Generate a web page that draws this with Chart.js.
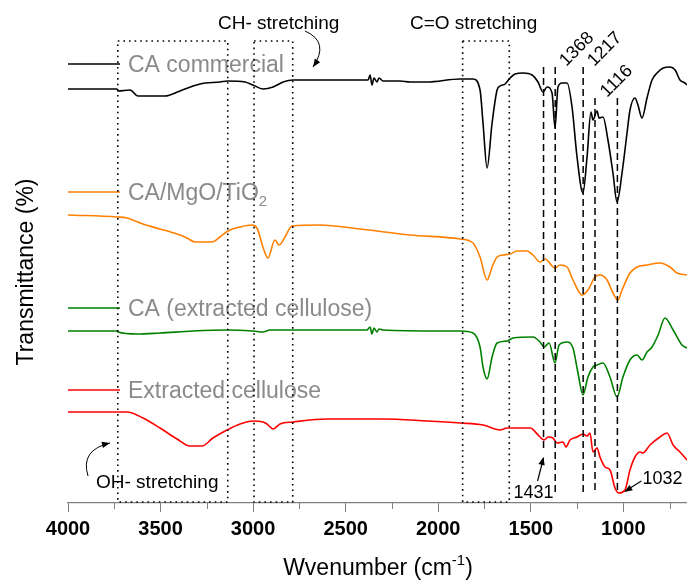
<!DOCTYPE html>
<html>
<head>
<meta charset="utf-8">
<script src="https://cdn.jsdelivr.net/npm/chart.js@4.4.1/dist/chart.umd.min.js"></script>
<style>
    body { margin: 0; background: #fff; }
    #wrap { width: 687px; height: 584px; }
</style>
</head>
<body>
<div id="wrap"><canvas id="ftirChart"></canvas></div>
<script>
const FONT = '"Liberation Sans", Arial, sans-serif';

// wavenumber (cm-1) and offset transmittance
const caCommercialWn = [4000, 3735, 3730, 3665, 3622, 3584, 3476, 3395, 3287, 3179, 3136, 3044, 3001, 2947, 2892, 2838, 2784, 2639, 2422, 2379, 2368, 2358, 2347, 2331, 2320, 2298, 2206, 2152, 2061, 1882, 1812, 1774, 1758, 1736, 1709, 1682, 1666, 1639, 1612, 1585, 1542, 1493, 1461, 1434, 1412, 1385, 1369, 1353, 1331, 1304, 1277, 1250, 1218, 1196, 1175, 1164, 1142, 1131, 1110, 1083, 1056, 1034, 1007, 980, 964, 937, 921, 899, 872, 845, 818, 785, 748, 720, 694, 667, 656];
const caCommercialT = [414, 414, 412, 413, 407, 407, 407, 412, 419, 421, 422, 421, 418, 414, 416, 421, 423, 423, 423, 423, 428, 418, 425, 421, 425, 422, 422, 421, 421, 424, 424, 413, 380, 335, 380, 413, 417, 419, 425, 429, 430, 428, 421, 411, 416, 410, 375, 416, 420, 420, 396, 346, 310, 346, 391, 383, 392, 385, 386, 363, 330, 301, 330, 370, 393, 405, 398, 385, 405, 423, 430, 435, 436, 433, 423, 420, 418];

const caMgoTioWn = [4000, 3735, 3681, 3595, 3503, 3411, 3357, 3314, 3222, 3179, 3136, 3071, 3006, 2979, 2947, 2920, 2882, 2860, 2828, 2790, 2639, 2422, 2152, 1882, 1812, 1774, 1736, 1709, 1682, 1650, 1612, 1574, 1520, 1488, 1450, 1423, 1369, 1342, 1304, 1272, 1223, 1191, 1153, 1126, 1088, 1056, 1029, 1007, 964, 926, 872, 802, 748, 710, 656];
const caMgoTioT = [288, 286, 285, 279, 274, 269, 265, 261, 261, 266, 272, 276, 278, 275, 256, 245, 263, 258, 266, 277, 278, 274, 268, 264, 260, 246, 223, 236, 246, 248, 249, 252, 252, 248, 241, 244, 235, 238, 236, 223, 208, 213, 226, 228, 223, 210, 203, 213, 230, 236, 238, 240, 236, 230, 228];

const caExtractedWn = [4000, 3735, 3730, 3627, 3503, 3325, 3141, 3001, 2947, 2909, 2855, 2385, 2368, 2358, 2347, 2331, 2320, 2298, 1990, 1882, 1812, 1774, 1758, 1736, 1709, 1682, 1628, 1596, 1488, 1450, 1428, 1401, 1369, 1347, 1304, 1272, 1245, 1218, 1191, 1164, 1142, 1110, 1072, 1034, 1002, 964, 926, 899, 872, 845, 812, 775, 731, 683, 656];
const caExtractedT = [172, 172, 171, 169, 170, 172, 173, 172, 171, 173, 173, 173, 176, 169, 175, 171, 174, 173, 172, 172, 170, 156, 136, 124, 146, 160, 162, 165, 166, 161, 156, 160, 140, 158, 161, 155, 130, 108, 126, 136, 138, 140, 126, 106, 126, 143, 148, 143, 151, 156, 168, 185, 173, 158, 155];

const celluloseWn = [4000, 3681, 3595, 3503, 3411, 3341, 3276, 3217, 3141, 3071, 3001, 2947, 2925, 2892, 2855, 2784, 2601, 2298, 2061, 1882, 1758, 1666, 1628, 1504, 1450, 1428, 1407, 1380, 1358, 1326, 1310, 1288, 1250, 1218, 1196, 1180, 1164, 1142, 1126, 1099, 1072, 1045, 1024, 991, 964, 937, 910, 894, 856, 802, 764, 731, 694, 656];
const celluloseT = [91, 91, 85, 75, 64, 57, 57, 65, 73, 79, 82, 81, 79, 74, 79, 81, 84, 84, 82, 80, 78, 73, 75, 75, 66, 63, 66, 65, 60, 61, 56, 63, 66, 69, 67, 70, 51, 55, 46, 36, 33, 15, 10, 13, 33, 46, 51, 50, 58, 66, 70, 58, 51, 43];

const seriesNames = ["CA commercial", "CA/MgO/TiO", "CA (extracted cellulose)", "Extracted cellulose"];
const seriesColors = ["#000000", "#ff8000", "#008000", "#ff0000"];
const legendLevels = [439, 311, 195, 113];

const xTicks = [4000, 3500, 3000, 2500, 2000, 1500, 1000];
const xMinorTicks = [3750, 3250, 2750, 2250, 1750, 1250, 750];

const bandBoxes = [[3731, 3137], [2995, 2786], [1868, 1616]];
const bandTop = 462;
const peakLines = [1431, 1368, 1217, 1153, 1032];
const peakLabels = ["1431", "1368", "1217", "1116", "1032"];
const peakLineTop = [436, 436, 436, 405, 405];
const peakLineBottom = [55, 8, 8, 13, 13];

const seriesWn = [caCommercialWn, caMgoTioWn, caExtractedWn, celluloseWn];
const seriesT = [caCommercialT, caMgoTioT, caExtractedT, celluloseT];

const datasets = seriesNames.map((name, i) => ({
    label: name,
    data: seriesWn[i].map((w, j) => ({ x: w, y: seriesT[i][j] })),
    borderColor: seriesColors[i],
    borderWidth: 1.6,
    pointRadius: 0,
    cubicInterpolationMode: "monotone",
    fill: false
}));

function arrowHead(ctx, x, y, angle, size) {
    ctx.save();
    ctx.translate(x, y);
    ctx.rotate(angle);
    ctx.beginPath();
    ctx.moveTo(0, 0);
    ctx.lineTo(-size, -size * 0.4);
    ctx.lineTo(-size, size * 0.4);
    ctx.closePath();
    ctx.fill();
    ctx.restore();
}

function curvedArrow(ctx, x0, y0, cx, cy, x1, y1) {
    ctx.beginPath();
    ctx.moveTo(x0, y0);
    ctx.quadraticCurveTo(cx, cy, x1, y1);
    ctx.stroke();
    arrowHead(ctx, x1, y1, Math.atan2(y1 - cy, x1 - cx), 8);
}

const annotations = {
    id: "annotations",
    afterDatasetsDraw(chart) {
        const ctx = chart.ctx;
        const xs = chart.scales.x;
        const ys = chart.scales.y;
        const left = chart.chartArea.left;
        ctx.save();

        // legend rows
        seriesNames.forEach((name, i) => {
            const y = ys.getPixelForValue(legendLevels[i]);
            ctx.strokeStyle = seriesColors[i];
            ctx.lineWidth = 1.6;
            ctx.beginPath();
            ctx.moveTo(left, y);
            ctx.lineTo(left + 52, y);
            ctx.stroke();
            ctx.fillStyle = "#8a8a8a";
            ctx.font = "23px " + FONT;
            ctx.textBaseline = "alphabetic";
            ctx.textAlign = "left";
            ctx.fillText(name, left + 60, y + 8);
            if (i === 1) {
                const w = ctx.measureText(name).width;
                ctx.font = "15px " + FONT;
                ctx.fillText("2", left + 60 + w, y + 14);
            }
        });

        // dotted band boxes
        ctx.strokeStyle = "#000";
        ctx.lineWidth = 1.6;
        ctx.setLineDash([1.6, 4]);
        bandBoxes.forEach(b => {
            const x0 = xs.getPixelForValue(b[0]);
            const x1 = xs.getPixelForValue(b[1]);
            const y0 = ys.getPixelForValue(bandTop);
            const y1 = ys.getPixelForValue(0) - 1;
            ctx.strokeRect(x0, y0, x1 - x0, y1 - y0);
        });

        // dashed peak lines
        ctx.lineWidth = 1.5;
        ctx.setLineDash([7, 4]);
        peakLines.forEach((p, i) => {
            const x = xs.getPixelForValue(p);
            ctx.beginPath();
            ctx.moveTo(x, ys.getPixelForValue(peakLineTop[i]));
            ctx.lineTo(x, ys.getPixelForValue(peakLineBottom[i]));
            ctx.stroke();
        });
        ctx.setLineDash([]);

        ctx.fillStyle = "#000";
        ctx.font = "18px " + FONT;
        ctx.textAlign = "left";
        ctx.textBaseline = "alphabetic";
        // rotated peak labels
        [1, 2, 3].forEach(i => {
            const x = xs.getPixelForValue(peakLines[i]) + (i === 3 ? 12 : 11);
            const y = ys.getPixelForValue(peakLineTop[i]);
            ctx.save();
            ctx.translate(x, y);
            ctx.rotate(-Math.PI / 4);
            ctx.fillText(peakLabels[i], 0, 0);
            ctx.restore();
        });

        // 1431 label with arrow
        const x1431 = xs.getPixelForValue(peakLines[0]);
        ctx.fillText(peakLabels[0], x1431 - 30, 498);
        ctx.lineWidth = 1.2;
        ctx.strokeStyle = "#000";
        ctx.beginPath();
        ctx.moveTo(x1431 - 6, 481);
        ctx.lineTo(x1431, 458);
        ctx.stroke();
        arrowHead(ctx, x1431, 457, Math.atan2(-23, 6), 8);

        // 1032 label with arrow
        const x1032 = xs.getPixelForValue(peakLines[4]);
        ctx.fillText(peakLabels[4], x1032 + 25, 484);
        ctx.beginPath();
        ctx.moveTo(x1032 + 24, 481);
        ctx.lineTo(x1032 + 8, 491);
        ctx.stroke();
        arrowHead(ctx, x1032 + 7, 492, Math.atan2(11, -17), 8);

        // band names
        ctx.font = "19px " + FONT;
        ctx.fillText("CH- stretching", 218, 29);
        ctx.fillText("C=O stretching", 410, 29);
        ctx.fillText("OH- stretching", 96, 488);
        ctx.lineWidth = 1;
        curvedArrow(ctx, 305, 31, 330, 42, 313, 67);
        curvedArrow(ctx, 88, 476, 80, 450, 110, 443);

        ctx.restore();
    },
    afterDraw(chart) {
        const ctx = chart.ctx;
        const xs = chart.scales.x;
        const bottom = chart.chartArea.bottom;
        ctx.save();
        // minor ticks
        ctx.strokeStyle = "#808080";
        ctx.lineWidth = 1;
        xMinorTicks.forEach(v => {
            const x = Math.round(xs.getPixelForValue(v)) + 0.5;
            ctx.beginPath();
            ctx.moveTo(x, bottom);
            ctx.lineTo(x, bottom + 6);
            ctx.stroke();
        });

        // axis titles
        ctx.fillStyle = "#000";
        ctx.font = "23px " + FONT;
        ctx.textBaseline = "alphabetic";
        const main = "Wvenumber (cm";
        const wMain = ctx.measureText(main).width;
        const wClose = ctx.measureText(")").width;
        ctx.font = "15px " + FONT;
        const wSup = ctx.measureText("-1").width;
        let x = 378 - (wMain + wSup + wClose) / 2;
        ctx.font = "23px " + FONT;
        ctx.textAlign = "left";
        ctx.fillText(main, x, 575);
        ctx.font = "15px " + FONT;
        ctx.fillText("-1", x + wMain, 565);
        ctx.font = "23px " + FONT;
        ctx.fillText(")", x + wMain + wSup, 575);

        ctx.translate(33, 272);
        ctx.rotate(-Math.PI / 2);
        ctx.textAlign = "center";
        ctx.fillText("Transmittance (%)", 0, 0);
        ctx.restore();
    }
};

new Chart(document.getElementById("ftirChart"), {
    type: "line",
    data: { datasets: datasets },
    options: {
        responsive: true,
        maintainAspectRatio: false,
        animation: false,
        layout: { padding: { left: 68, top: 33, right: 0, bottom: 0 } },
        plugins: { legend: { display: false }, tooltip: { enabled: false } },
        scales: {
            x: {
                type: "linear",
                reverse: true,
                min: 656,
                max: 4000,
                afterBuildTicks: scale => {
                    scale.ticks = xTicks.map(v => ({ value: v }));
                },
                afterFit: scale => {
                    scale.height = 81;
                },
                grid: {
                    display: true,
                    drawOnChartArea: false,
                    drawTicks: true,
                    tickLength: 9,
                    color: "#808080"
                },
                border: { display: true, color: "#808080", width: 1.2 },
                ticks: {
                    color: "#000",
                    padding: 5,
                    maxRotation: 0,
                    font: { family: FONT, size: 20, weight: "bold" },
                    callback: value => String(value)
                },
                title: { display: false }
            },
            y: {
                display: false,
                min: 0,
                max: 470
            }
        }
    },
    plugins: [annotations]
});
</script>
</body>
</html>
